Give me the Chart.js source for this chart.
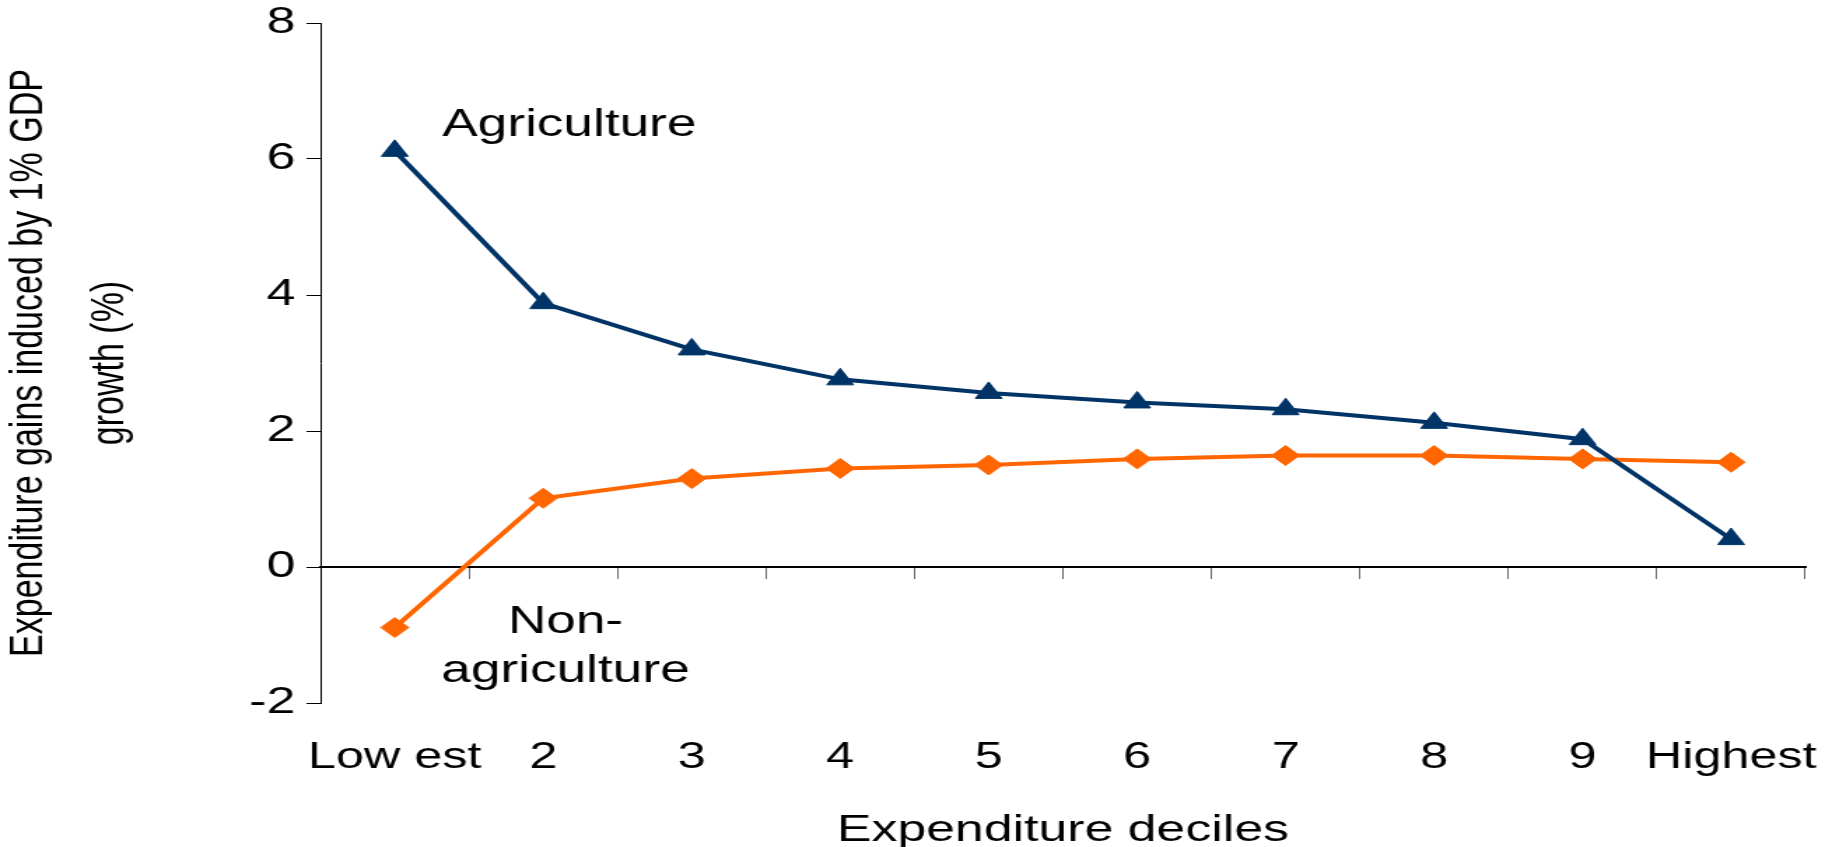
<!DOCTYPE html>
<html>
<head>
<meta charset="utf-8">
<script src="https://cdn.jsdelivr.net/npm/chart.js@4.4.1/dist/chart.umd.min.js"></script>
<style>
    html, body { margin: 0; padding: 0; background: #fff; overflow: hidden; }
    /* the source picture is stretched sideways, so the canvas is too */
    #chart { display: block; transform: scaleX(1.3995); transform-origin: 0 0; }
</style>
</head>
<body>
<canvas id="chart" width="1309" height="847"></canvas>
<script>
// ======================  Data  ====================== //
const deciles = ['Low est', '2', '3', '4', '5', '6', '7', '8', '9', 'Highest'];
const agriculture = [6.12, 3.88, 3.2, 2.76, 2.56, 2.42, 2.32, 2.12, 1.88, 0.41];
const nonAgriculture = [-0.89, 1.01, 1.30, 1.45, 1.50, 1.59, 1.64, 1.64, 1.59, 1.54];
const yTicks = [-2, 0, 2, 4, 6, 8];

const FONT = '"Liberation Sans", Arial, sans-serif';
const NAVY = '#003366';
const ORANGE = '#FF6600';

// ======================  Series labels inside the plot  ====================== //
const seriesLabels = {
    id: 'seriesLabels',
    afterDatasetsDraw(chart) {
        const { ctx, scales: { x, y } } = chart;
        ctx.save();
        ctx.font = '38px ' + FONT;
        ctx.fillStyle = '#000';
        ctx.textBaseline = 'middle';
        ctx.textAlign = 'left';
        ctx.fillText('Agriculture', x.getPixelForValue(0.32), y.getPixelForValue(6.49));
        ctx.textAlign = 'center';
        ctx.fillText('Non-', x.getPixelForValue(1.15), y.getPixelForValue(-0.81));
        ctx.fillText('agriculture', x.getPixelForValue(1.15), y.getPixelForValue(-1.54));
        ctx.restore();
    }
};

// no extra room for the outer tick labels, the plot box is fixed
const noLabelPadding = (s) => {
    s.paddingTop = 0;
    s.paddingBottom = 0;
    s.paddingLeft = 0;
    s.paddingRight = 0;
};

// ======================  Chart  ====================== //
const ctx = document.getElementById('chart');

new Chart(ctx, {
    type: 'line',
    data: {
        labels: deciles,
        datasets: [{
            label: 'Agriculture',
            data: agriculture,
            borderColor: NAVY,
            backgroundColor: NAVY,
            borderWidth: 4,
            pointStyle: 'triangle',
            pointRadius: 11,
            pointBorderWidth: 1,
            pointBackgroundColor: NAVY,
            tension: 0
        },
        {
            label: 'Non-agriculture',
            data: nonAgriculture,
            borderColor: ORANGE,
            backgroundColor: ORANGE,
            borderWidth: 4,
            pointStyle: 'rectRot',
            pointRadius: 10,
            pointBorderWidth: 1,
            pointBackgroundColor: ORANGE,
            tension: 0
        }]
    },
    options: {
        responsive: false,
        animation: false,
        layout: {
            padding: { top: 23, right: 19, bottom: 0, left: 0 }
        },
        scales: {
            x: {
                type: 'category',
                position: 'bottom',
                offset: true,
                border: { display: false },
                grid: { display: false, offset: true },
                ticks: {
                    color: '#000',
                    padding: 25,
                    maxRotation: 0,
                    autoSkip: false,
                    font: { family: FONT, size: 36 }
                },
                title: {
                    display: true,
                    text: 'Expenditure deciles',
                    color: '#000',
                    padding: { top: 0, bottom: -5.5 },
                    font: { family: FONT, size: 37 }
                },
                afterFit: (s) => { s.height = 144; noLabelPadding(s); }
            },
            // axis line through zero with the category tick marks
            x2: {
                type: 'category',
                position: { y: 0 },
                offset: true,
                border: { display: true, color: '#000', width: 2 },
                grid: {
                    display: true,
                    offset: true,
                    drawOnChartArea: false,
                    drawTicks: true,
                    tickLength: 11,
                    color: '#666'
                },
                ticks: { display: false }
            },
            y: {
                min: -2,
                max: 8,
                border: { display: true, color: '#000', width: 1 },
                grid: {
                    drawOnChartArea: false,
                    drawTicks: true,
                    tickLength: 10,
                    color: '#000'
                },
                ticks: {
                    color: '#000',
                    padding: 8,
                    font: { family: FONT, size: 37 }
                },
                afterBuildTicks: (s) => { s.ticks = yTicks.map(v => ({ value: v })); },
                title: {
                    display: true,
                    text: ['Expenditure gains induced by 1% GDP', 'growth (%)'],
                    color: '#000',
                    padding: { top: -8.6, bottom: 0 },
                    font: { family: FONT, size: 34, lineHeight: 1.72 }
                },
                afterFit: (s) => { s.width = 229; noLabelPadding(s); }
            }
        },
        plugins: {
            legend: { display: false },
            tooltip: { enabled: false }
        }
    },
    plugins: [seriesLabels]
});
</script>
</body>
</html>
